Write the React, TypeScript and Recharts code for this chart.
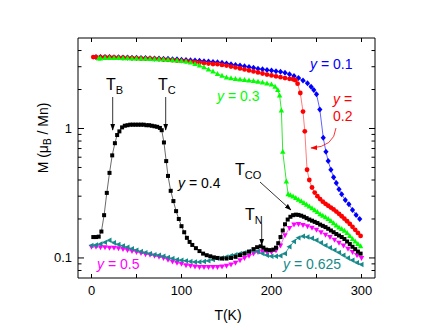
import React from 'react';
import { LineChart, Line, XAxis, YAxis } from 'recharts';

const FONT = '"Liberation Sans", Arial, Helvetica, sans-serif';

// axis ticks
const xTicks = [0, 50, 100, 150, 200, 250, 300];
const xLabels = [0, 100, 200, 300];
const yTicks = [0.08, 0.09, 0.1, 0.2, 0.3, 0.4, 0.5, 0.6, 0.7, 0.8, 0.9, 1, 2, 3, 4];
const yLabels = [0.1, 1];

// y = 0.1
const tY01 = [5, 10, 15, 20, 25, 30, 35, 40, 45, 50, 55, 60, 65, 70, 75, 80, 85, 90, 95, 100,
  105, 110, 115, 120, 125, 130, 135, 140, 145, 150, 155, 160, 165, 170, 175, 180, 185, 190, 195, 200,
  205, 210, 215, 220, 225, 230, 235, 240, 244, 247, 250, 253.7, 257.5, 260.5, 263, 266, 269, 272, 275,
  278, 282, 286, 290, 294, 298];
const mY01 = [3.56, 3.56, 3.56, 3.56, 3.55, 3.55, 3.54, 3.53, 3.52, 3.52, 3.51, 3.5, 3.49, 3.48, 3.47, 3.46, 3.45, 3.43, 3.42, 3.4,
  3.38, 3.36, 3.35, 3.33, 3.31, 3.29, 3.27, 3.25, 3.22, 3.18, 3.14, 3.1, 3.06, 3.02, 2.98, 2.94, 2.9, 2.87, 2.83, 2.8,
  2.77, 2.74, 2.69, 2.62, 2.54, 2.45, 2.35, 2.24, 2.1, 1.98, 1.84, 1.4, 0.85, 0.66, 0.56, 0.48, 0.42, 0.38, 0.34,
  0.31, 0.28, 0.26, 0.235, 0.215, 0.2];

// y = 0.2
const tY02 = [2, 5, 10, 15, 20, 25, 30, 35, 40, 45, 50, 55, 60, 65, 70, 75, 80, 85, 90, 95, 100,
  105, 110, 115, 120, 125, 130, 135, 140, 145, 150, 155, 160, 165, 170, 175, 180, 185, 190, 195, 200,
  205, 210, 215, 220, 224, 226.5, 229, 232, 235, 237, 239.5, 242, 245, 248, 251, 254, 257, 260, 263,
  266, 269, 272, 275, 278, 281, 284, 287, 290, 293, 296, 299];
const mY02 = [3.56, 3.56, 3.55, 3.55, 3.55, 3.54, 3.53, 3.52, 3.51, 3.5, 3.49, 3.48, 3.47, 3.46, 3.45, 3.43, 3.41, 3.39, 3.37, 3.35, 3.33,
  3.31, 3.28, 3.26, 3.23, 3.2, 3.17, 3.15, 3.14, 3.1, 3.06, 3.01, 2.96, 2.91, 2.86, 2.81, 2.76, 2.71, 2.66, 2.61, 2.57,
  2.53, 2.49, 2.45, 2.42, 2.4, 2.36, 2.22, 1.88, 1.35, 0.95, 0.48, 0.4, 0.35, 0.32, 0.3, 0.285, 0.272, 0.262, 0.253,
  0.245, 0.237, 0.228, 0.219, 0.21, 0.201, 0.192, 0.183, 0.174, 0.165, 0.156, 0.148];

// y = 0.3
const tY03 = [8, 10, 15, 20, 25, 30, 35, 40, 45, 50, 55, 60, 65, 70, 75, 80, 85, 90, 95, 100,
  105, 110, 115, 120, 125, 130, 135, 140, 145, 150, 155, 160, 165, 170, 175, 180, 185, 190, 195, 200,
  204, 207, 209, 211, 212.5, 216.5, 218.5, 221, 224, 227, 230, 233, 236, 239, 242, 245, 248, 251, 254,
  257, 260, 263, 266, 269, 272, 275, 278, 281, 284, 287, 290, 293, 296, 299];
const mY03 = [3.47, 3.48, 3.5, 3.5, 3.5, 3.5, 3.49, 3.49, 3.48, 3.47, 3.46, 3.45, 3.44, 3.43, 3.42, 3.41, 3.39, 3.37, 3.35, 3.32,
  3.29, 3.23, 3.15, 3.06, 2.97, 2.86, 2.75, 2.64, 2.55, 2.48, 2.44, 2.41, 2.39, 2.37, 2.35, 2.33, 2.3, 2.27, 2.23, 2.19,
  2.1, 1.98, 1.8, 1.38, 0.66, 0.39, 0.31, 0.305, 0.298, 0.29, 0.282, 0.274, 0.266, 0.258, 0.25, 0.242, 0.234, 0.226, 0.218,
  0.212, 0.206, 0.2, 0.193, 0.185, 0.178, 0.172, 0.167, 0.162, 0.156, 0.148, 0.14, 0.134, 0.128, 0.123];

// y = 0.4
const tY04 = [2, 5, 8, 11, 14, 17, 20, 23, 26, 28.5, 31, 34, 37, 40, 43, 46, 49, 52, 55, 58,
  61, 64, 67, 70, 73, 76, 78, 80.5, 83, 85, 88, 91, 94, 97, 100, 103, 106, 109, 112, 116,
  120, 124, 128, 132, 136, 140, 145, 150, 155, 160, 165, 170, 175, 180, 184, 188, 191, 194, 198, 202,
  205, 207.5, 210, 212.5, 215, 218, 221, 224, 227, 230, 233, 236, 239, 242, 245, 248, 251, 254, 257, 260,
  263, 266, 269, 272, 275, 278, 281, 284, 287, 290, 293, 296, 299];
const mY04 = [0.145, 0.145, 0.146, 0.16, 0.214, 0.318, 0.454, 0.62, 0.77, 0.89, 0.95, 1.02, 1.05, 1.06, 1.07, 1.07, 1.07, 1.07, 1.07, 1.07,
  1.06, 1.06, 1.05, 1.04, 1.03, 1.01, 0.97, 0.78, 0.56, 0.43, 0.33, 0.275, 0.23, 0.2, 0.176, 0.158, 0.143, 0.133, 0.126, 0.119,
  0.113, 0.108, 0.105, 0.103, 0.101, 0.1, 0.099, 0.099, 0.1, 0.102, 0.105, 0.108, 0.112, 0.117, 0.121, 0.123, 0.12, 0.116, 0.115, 0.116,
  0.12, 0.13, 0.145, 0.163, 0.182, 0.198, 0.208, 0.214, 0.216, 0.215, 0.212, 0.208, 0.203, 0.198, 0.194, 0.19, 0.186, 0.181, 0.177, 0.173,
  0.168, 0.163, 0.158, 0.153, 0.149, 0.145, 0.14, 0.134, 0.128, 0.122, 0.117, 0.112, 0.108];

// y = 0.5 and y = 0.625 share a 5 K grid
const tLow = [0, 5, 10, 15, 20, 25, 30, 35, 40, 45, 50, 55, 60, 65, 70, 75, 80, 85, 90, 95, 100,
  105, 110, 115, 120, 125, 130, 135, 140, 145, 150, 155, 160, 165, 170, 175, 180, 185, 190, 195, 200,
  205, 210, 215, 220, 225, 230, 235, 240, 245, 250, 255, 260, 265, 270, 275, 280, 285, 290, 295, 300];
const mY05 = [0.122, 0.122, 0.121, 0.121, 0.12, 0.12, 0.119, 0.117, 0.115, 0.113, 0.111, 0.109, 0.107, 0.106, 0.104, 0.102, 0.1, 0.097, 0.094, 0.092, 0.09,
  0.088, 0.087, 0.086, 0.085, 0.085, 0.085, 0.085, 0.085, 0.086, 0.087, 0.089, 0.092, 0.096, 0.1, 0.104, 0.108, 0.111, 0.112, 0.111, 0.111,
  0.114, 0.125, 0.15, 0.17, 0.181, 0.183, 0.18, 0.176, 0.171, 0.165, 0.158, 0.151, 0.145, 0.138, 0.131, 0.125, 0.118, 0.111, 0.105, 0.1];
const mY0625 = [0.125, 0.126, 0.128, 0.132, 0.137, 0.131, 0.127, 0.124, 0.121, 0.118, 0.115, 0.112, 0.11, 0.108, 0.106, 0.105, 0.103, 0.101, 0.099, 0.097, 0.096,
  0.095, 0.094, 0.093, 0.093, 0.094, 0.095, 0.097, 0.099, 0.1, 0.102, 0.104, 0.106, 0.108, 0.11, 0.112, 0.113, 0.112, 0.108, 0.105, 0.103,
  0.103, 0.104, 0.108, 0.122, 0.134, 0.143, 0.147, 0.145, 0.142, 0.137, 0.131, 0.125, 0.12, 0.115, 0.11, 0.105, 0.1, 0.096, 0.092, 0.089];

const zip = (t: number[], m: number[]) => t.map((v, i) => ({ t: v, m: m[i] }));

type Kind = 'diamond' | 'circle' | 'up' | 'square' | 'down' | 'left';

const Marker = ({ cx, cy, kind, color }: { cx?: number; cy?: number; kind: Kind; color: string }) => {
  if (cx == null || cy == null) return null;
  switch (kind) {
    case 'diamond':
      return <polygon points={`${cx},${cy - 3} ${cx + 2.6},${cy} ${cx},${cy + 3} ${cx - 2.6},${cy}`} fill={color} />;
    case 'circle':
      return <circle cx={cx} cy={cy} r={2.4} fill={color} />;
    case 'up':
      return <polygon points={`${cx},${cy - 3} ${cx + 2.7},${cy + 2} ${cx - 2.7},${cy + 2}`} fill={color} />;
    case 'square':
      return <rect x={cx - 2} y={cy - 2} width={4} height={4} fill={color} />;
    case 'down':
      return <polygon points={`${cx - 2.7},${cy - 2} ${cx + 2.7},${cy - 2} ${cx},${cy + 3}`} fill={color} />;
    default:
      return <polygon points={`${cx - 3},${cy} ${cx + 2},${cy - 2.7} ${cx + 2},${cy + 2.7}`} fill={color} />;
  }
};

const series = [
  { name: 'y01', data: zip(tY01, mY01), kind: 'diamond' as Kind, color: '#0000ff', line: '#3a3aff' },
  { name: 'y02', data: zip(tY02, mY02), kind: 'circle' as Kind, color: '#ff0000', line: '#ff5a5a' },
  { name: 'y03', data: zip(tY03, mY03), kind: 'up' as Kind, color: '#00ff00', line: '#00e000' },
  { name: 'y05', data: zip(tLow, mY05), kind: 'down' as Kind, color: '#ff00ff', line: '#ff40ff' },
  { name: 'y0625', data: zip(tLow, mY0625), kind: 'left' as Kind, color: '#168a8a', line: '#168a8a' },
  { name: 'y04', data: zip(tY04, mY04), kind: 'square' as Kind, color: '#000000', line: '#444444' },
];

const BottomTick = (p: any) => {
  const v = p.payload.value;
  return (
    <g>
      <line x1={p.x} x2={p.x} y1={p.y} y2={p.y - 4} stroke="#000" />
      {xLabels.includes(v) && (
        <text x={p.x} y={p.y + 17} textAnchor="middle" fontSize={13} fontFamily={FONT} fill="#000">{v}</text>
      )}
    </g>
  );
};

const TopTick = (p: any) => <line x1={p.x} x2={p.x} y1={p.y} y2={p.y + 4} stroke="#000" />;

const LeftTick = (p: any) => {
  const v = p.payload.value;
  const major = yLabels.includes(v);
  return (
    <g>
      <line x1={p.x} x2={p.x + (major ? 6 : 3.5)} y1={p.y} y2={p.y} stroke="#000" />
      {major && (
        <text x={p.x - 6} y={p.y + 4.5} textAnchor="end" fontSize={13} fontFamily={FONT} fill="#000">{v}</text>
      )}
    </g>
  );
};

const RightTick = (p: any) => {
  const major = yLabels.includes(p.payload.value);
  return <line x1={p.x} x2={p.x - (major ? 6 : 3.5)} y1={p.y} y2={p.y} stroke="#000" />;
};

const Label = ({ x, y, color, value }: { x: number; y: number; color: string; value: string }) => (
  <text x={x} y={y} fill={color} fontSize={14}>
    <tspan fontStyle="italic">y</tspan>
    {` = ${value}`}
  </text>
);

const Temp = ({ x, y, sub }: { x: number; y: number; sub: string }) => (
  <text x={x} y={y} fontSize={16} fill="#000">
    T<tspan fontSize={11} dy={4}>{sub}</tspan>
  </text>
);

export default function App() {
  return (
    <div style={{ position: 'absolute', left: 0, top: 0, width: 436, height: 330, background: '#fff' }}>
      <LineChart width={436} height={330} margin={{ top: 37, right: 60, bottom: 22, left: 38 }}>
        <XAxis
          xAxisId={0}
          dataKey="t"
          type="number"
          domain={[-15, 315]}
          ticks={xTicks}
          interval={0}
          height={30}
          tickSize={0}
          tickMargin={0}
          tick={<BottomTick />}
          axisLine={{ stroke: '#000' }}
          allowDataOverflow
        />
        <XAxis
          xAxisId="top"
          orientation="top"
          dataKey="t"
          type="number"
          domain={[-15, 315]}
          ticks={xTicks}
          interval={0}
          height={1}
          tickSize={0}
          tickMargin={0}
          tick={<TopTick />}
          axisLine={{ stroke: '#000' }}
          allowDataOverflow
        />
        <YAxis
          yAxisId={0}
          type="number"
          scale="log"
          domain={[0.07, 5]}
          ticks={yTicks}
          interval={0}
          width={40}
          tickSize={0}
          tickMargin={0}
          tick={<LeftTick />}
          axisLine={{ stroke: '#000' }}
          allowDataOverflow
        />
        <YAxis
          yAxisId="right"
          orientation="right"
          type="number"
          scale="log"
          domain={[0.07, 5]}
          ticks={yTicks}
          interval={0}
          width={1}
          tickSize={0}
          tickMargin={0}
          tick={<RightTick />}
          axisLine={{ stroke: '#000' }}
          allowDataOverflow
        />
        <Line
          xAxisId="top"
          yAxisId="right"
          data={series[0].data}
          dataKey="m"
          stroke="none"
          dot={false}
          activeDot={false}
          isAnimationActive={false}
        />
        {series.map((s) => (
          <Line
            key={s.name}
            xAxisId={0}
            yAxisId={0}
            data={s.data}
            dataKey="m"
            stroke={s.line}
            strokeWidth={0.8}
            dot={(p: any) => <Marker key={p.index} cx={p.cx} cy={p.cy} kind={s.kind} color={s.color} />}
            activeDot={false}
            isAnimationActive={false}
          />
        ))}
      </LineChart>

      <svg
        width={436}
        height={330}
        style={{ position: 'absolute', left: 0, top: 0, pointerEvents: 'none' }}
        fontFamily={FONT}
      >
        <defs>
          <marker id="ah" viewBox="0 0 10 10" refX="9" refY="5" markerWidth="7" markerHeight="7" orient="auto" markerUnits="userSpaceOnUse">
            <path d="M0,1.5 L10,5 L0,8.5 z" fill="#000" />
          </marker>
          <marker id="ahr" viewBox="0 0 10 10" refX="9" refY="5" markerWidth="7" markerHeight="7" orient="auto" markerUnits="userSpaceOnUse">
            <path d="M0,1.5 L10,5 L0,8.5 z" fill="#ff0000" />
          </marker>
        </defs>

        <text transform="translate(48,138) rotate(-90)" textAnchor="middle" fontSize={14} fill="#000">
          M (μ<tspan fontSize={10} dy={3}>B</tspan><tspan dy={-3}> / Mn)</tspan>
        </text>
        <text x={228} y={320} textAnchor="middle" fontSize={14} fill="#000">T(K)</text>

        <Label x={310} y={69} color="#0000ff" value="0.1" />
        <text x={333} y={104} fill="#ff0000" fontSize={14}>
          <tspan fontStyle="italic">y</tspan> =
        </text>
        <text x={333} y={121} fill="#ff0000" fontSize={14}>0.2</text>
        <path d="M336,128 Q334,147 311,148" fill="none" stroke="#ff0000" strokeWidth={0.8} markerEnd="url(#ahr)" />
        <Label x={217} y={101} color="#00ff00" value="0.3" />
        <Label x={178} y={188} color="#000000" value="0.4" />
        <Label x={97} y={269} color="#ff00ff" value="0.5" />
        <Label x={283} y={269} color="#168a8a" value="0.625" />

        <Temp x={106} y={90} sub="B" />
        <line x1={112.7} y1={97} x2={112.7} y2={130} stroke="#000" strokeWidth={0.8} markerEnd="url(#ah)" />
        <Temp x={158} y={90} sub="C" />
        <line x1={165.7} y1={97} x2={165.7} y2={130} stroke="#000" strokeWidth={0.8} markerEnd="url(#ah)" />
        <Temp x={235} y={175} sub="CO" />
        <line x1={260} y1={182} x2={291} y2={210} stroke="#000" strokeWidth={0.8} markerEnd="url(#ah)" />
        <Temp x={245} y={220} sub="N" />
        <line x1={261.7} y1={224} x2={261.7} y2={245} stroke="#000" strokeWidth={0.8} markerEnd="url(#ah)" />
      </svg>
    </div>
  );
}
